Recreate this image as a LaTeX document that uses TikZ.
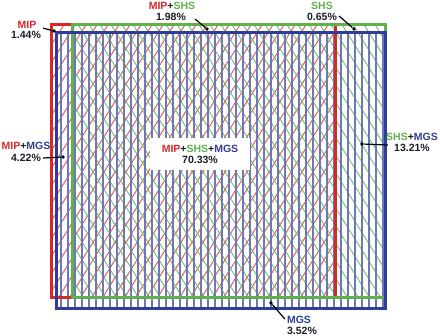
\documentclass[tikz,border=0pt]{standalone}
\usepackage{fontspec}
\setmainfont{Liberation Sans}
\usepackage{tikz}
\definecolor{MipRed}{RGB}{214,40,40}
\definecolor{ShsGreen}{RGB}{96,176,76}
\definecolor{MgsBlue}{RGB}{46,62,150}
\definecolor{PctInk}{RGB}{30,30,40}

\begin{document}
\begin{tikzpicture}[x=1pt, y=-1pt,
  lbl/.style={font=\fontsize{10.5}{12}\selectfont\bfseries, inner sep=0pt, text=PctInk},
  callout/.style={black, line width=1.2pt},
  dotmark/.style={circle, fill=black, inner sep=0pt, minimum size=3.8pt}]
  \useasboundingbox (0,0) rectangle (440,336);

  % Hatching of the three sets
  \begin{scope}
    \clip (51,25) rectangle (335,298);
    \foreach \x in {-130,-119,...,340}
      \draw[MipRed!80, line width=0.9pt] (\x,300) -- ++(175,-280);
  \end{scope}
  \begin{scope}
    \clip (72,25) rectangle (385,298);
    \foreach \x in {-110,-99,...,390}
      \draw[ShsGreen!85, line width=0.9pt] (\x,23) -- ++(175,280);
  \end{scope}
  \begin{scope}
    \clip (56,33) rectangle (385,309);
    \foreach \x in {61,68,...,384}
      \draw[MgsBlue!70, line width=1.1pt] (\x,30) -- (\x,312);
  \end{scope}

  % Set borders
  \draw[MipRed, line width=3pt] (51,25) rectangle (335,298);
  \draw[ShsGreen, line width=3pt] (72,25) rectangle (385,298);
  \draw[MgsBlue, line width=3pt] (56,33) rectangle (385,309);

  % Centre label
  \node[fill=white, minimum width=100pt, minimum height=32pt, inner sep=0pt] (box) at (200,154) {};
  \node[lbl] (nAll) at (200,149) {\textcolor{MipRed}{MIP}+\textcolor{ShsGreen}{SHS}+\textcolor{MgsBlue}{MGS}};
  \node[lbl] (pAll) at (200,160) {70.33\%};

  % Outer labels
  \node[lbl] (nMIP) at (27,25) {\textcolor{MipRed}{MIP}};
  \node[lbl] (pMIP) at (26,35) {1.44\%};
  \node[lbl] (nMS) at (172,6) {\textcolor{MipRed}{MIP}+\textcolor{ShsGreen}{SHS}};
  \node[lbl] (pMS) at (171,17) {1.98\%};
  \node[lbl] (nSHS) at (322,6) {\textcolor{ShsGreen}{SHS}};
  \node[lbl] (pSHS) at (322,17) {0.65\%};
  \node[lbl] (nMM) at (26,146) {\textcolor{MipRed}{MIP}+\textcolor{MgsBlue}{MGS}};
  \node[lbl] (pMM) at (26,158) {4.22\%};
  \node[lbl] (nSM) at (412,137) {\textcolor{ShsGreen}{SHS}+\textcolor{MgsBlue}{MGS}};
  \node[lbl] (pSM) at (412,148) {13.21\%};
  \node[lbl] (nMGS) at (299,320) {\textcolor{MgsBlue}{MGS}};
  \node[lbl] (pMGS) at (302,331) {3.52\%};

  % Callout dots
  \node[dotmark] (dMIP) at (54,31) {};
  \node[dotmark] (dMS) at (207,29) {};
  \node[dotmark] (dSHS) at (354,29) {};
  \node[dotmark] (dMM) at (63,157) {};
  \node[dotmark] (dSM) at (362,144) {};
  \node[dotmark] (dMGS) at (271,303) {};

  % Callout lines
  \draw[callout] ([shift={(2,-3)}]pMIP.north east) -- (dMIP);
  \draw[callout] ([shift={(9,2)}]pMS.east) -- (dMS);
  \draw[callout] ([shift={(2,-1)}]pSHS.east) -- (dSHS);
  \draw[callout] ([xshift=2pt]pMM.east) -- (dMM);
  \draw[callout] ([shift={(-6,-3)}]pSM.west) -- (dSM);
  \draw[callout] ([shift={(-2,-1)}]nMGS.west) -- (dMGS);
\end{tikzpicture}
\end{document}
